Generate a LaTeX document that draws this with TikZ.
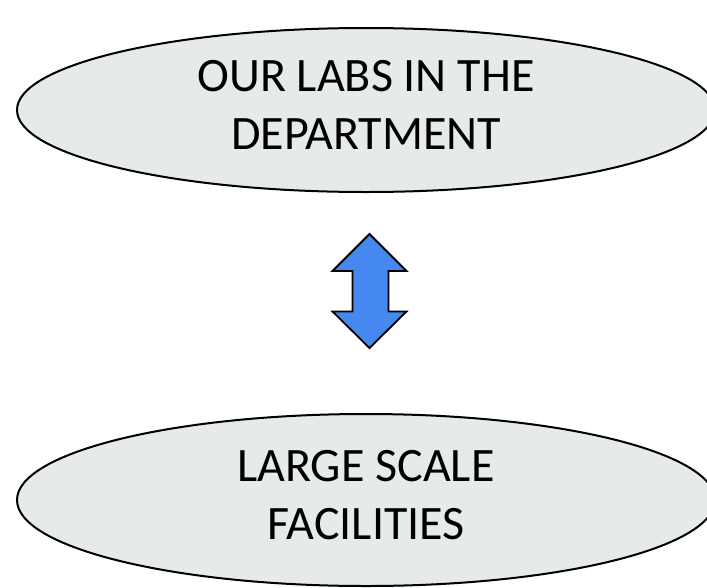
\documentclass[tikz,border=0pt]{standalone}
\usepackage{fontspec}
\setmainfont{Carlito}
\usetikzlibrary{shapes.geometric}
\definecolor{ovalfill}{RGB}{230,234,234}
\definecolor{arrowblue}{RGB}{68,136,240}
\begin{document}
\begin{tikzpicture}[x=1pt,y=-1pt,
  oval/.style={ellipse, draw=black, line width=2pt, fill=ovalfill,
    minimum width=698pt, minimum height=164pt, inner sep=0pt},
  ovaltext/.style={align=center, inner sep=0pt,
    font=\fontsize{48}{58}\selectfont}]
\useasboundingbox (0,0) rectangle (707,587);
\clip (0,0) rectangle (707,587);
\node[oval] (labs) at (366,110) {};
\node[ovaltext] (labstext) at ([yshift=5pt]labs.center) {OUR LABS IN THE\\DEPARTMENT};
\node[oval, minimum height=172pt] (lsf) at (366,500) {};
\node[ovaltext] (lsftext) at ([yshift=5pt]lsf.center) {LARGE SCALE\\FACILITIES};
% double-headed block arrow between the two ovals
\coordinate (up) at (369.5,234);
\coordinate (down) at (369.5,348);
\draw[line width=1.8pt, fill=arrowblue, line join=miter]
  (up) -- (406.5,271) -- (388.5,271) -- (388.5,311.5) -- (406.5,311.5)
  -- (down) -- (332.5,311.5) -- (352.5,311.5) -- (352.5,271) -- (332.5,271) -- cycle;
\end{tikzpicture}
\end{document}
